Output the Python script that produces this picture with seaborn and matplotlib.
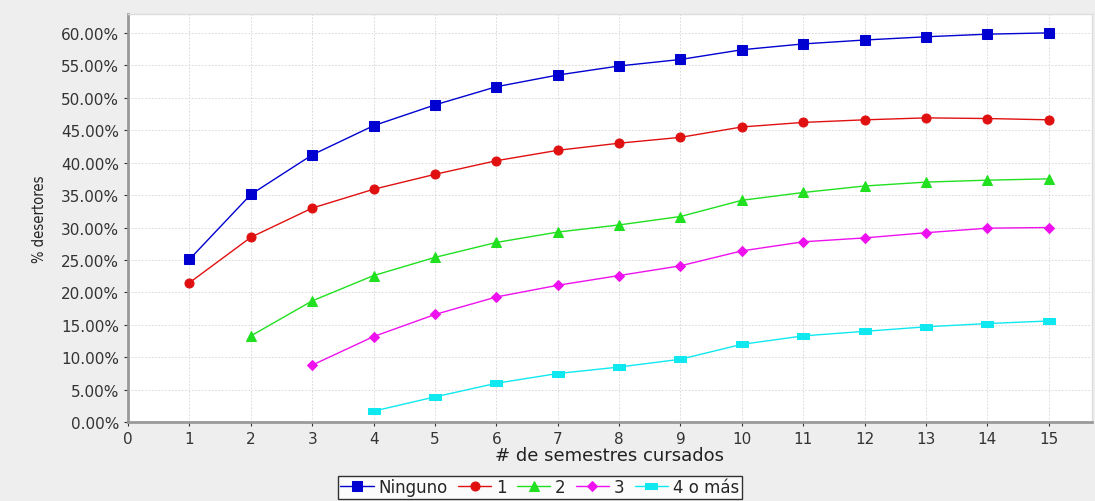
import numpy as np
import pandas as pd
import matplotlib
matplotlib.use('Agg')
import matplotlib.pyplot as plt
import seaborn as sns
from matplotlib.ticker import FuncFormatter, MultipleLocator

semestres = list(range(1, 16))
ninguno = [25.1, 35.1, 41.2, 45.7, 48.9, 51.7, 53.5, 54.9, 55.9, 57.4, 58.3, 58.9, 59.4, 59.8, 60.0]
uno = [21.5, 28.5, 33.0, 35.9, 38.2, 40.3, 41.9, 43.0, 43.9, 45.5, 46.2, 46.6, 46.9, 46.8, 46.6]
dos = [np.nan, 13.3, 18.7, 22.6, 25.4, 27.7, 29.3, 30.4, 31.7, 34.2, 35.4, 36.4, 37.0, 37.3, 37.5]
tres = [np.nan, np.nan, 8.8, 13.2, 16.6, 19.3, 21.1, 22.6, 24.1, 26.4, 27.8, 28.4, 29.2, 29.9, 30.0]
cuatro = [np.nan, np.nan, np.nan, 1.7, 3.9, 6.0, 7.5, 8.5, 9.7, 12.0, 13.3, 14.0, 14.7, 15.2, 15.6]

series = {'Ninguno': ninguno, '1': uno, '2': dos, '3': tres, '4 o más': cuatro}
colores = {'Ninguno': '#0000d0', '1': '#e01010', '2': '#20e020', '3': '#ee10ee', '4 o más': '#10e8f0'}
barra = [(-1, -0.5), (1, -0.5), (1, 0.5), (-1, 0.5), (-1, -0.5)]
marcadores = {'Ninguno': 's', '1': 'o', '2': '^', '3': 'D', '4 o más': barra}
tamanos = {'Ninguno': 6.5, '1': 6.5, '2': 6.5, '3': 5, '4 o más': 9}

df = pd.DataFrame(series, index=semestres)
df.index.name = 'semestre'
df = df.reset_index().melt(id_vars='semestre', var_name='grupo', value_name='pct').dropna()

sns.set_style('white')
plt.rcParams['font.family'] = ['DejaVu Sans']

fig = plt.figure(figsize=(10.95, 5.02), dpi=100, facecolor='#eeeeee')
ax = fig.add_axes([0.117, 0.157, 0.88, 0.813])
ax.set_facecolor('white')

for nombre in series:
    sub = df[df['grupo'] == nombre]
    sns.lineplot(data=sub, x='semestre', y='pct', ax=ax, color=colores[nombre],
                 marker=marcadores[nombre], markersize=tamanos[nombre],
                 markeredgecolor=colores[nombre], linewidth=1.0, label=nombre, zorder=3)

ax.set_xlim(0, 15.7)
ax.set_ylim(0, 62.9)
ax.xaxis.set_major_locator(MultipleLocator(1))
ax.yaxis.set_major_locator(MultipleLocator(5))
ax.yaxis.set_major_formatter(FuncFormatter(lambda v, p: f'{v:.2f}%'))
ax.grid(True, color='#d4d4d4', linestyle=(0, (2, 2)), linewidth=0.6)
ax.tick_params(axis='both', labelsize=11, colors='#333333', length=3, width=0.8,
               direction='out', left=True, bottom=True)
for lado in ['left', 'bottom']:
    ax.spines[lado].set_color('#999999')
    ax.spines[lado].set_linewidth(2)
for lado in ['top', 'right']:
    ax.spines[lado].set_color('#dddddd')
    ax.spines[lado].set_linewidth(1)
ax.set_xlabel('# de semestres cursados', fontsize=13, color='#222222', labelpad=0)
ax.set_ylabel('% desertores', fontsize=10.5, color='#222222', fontstretch='condensed', labelpad=10)

ax.legend_.remove()
handles, labels = ax.get_legend_handles_labels()
leg = fig.legend(handles, labels, loc='lower center', bbox_to_anchor=(0.493, 0.0), ncol=5,
                 frameon=True, fancybox=False, edgecolor='black', fontsize=12,
                 handlelength=2.0, handletextpad=0.3, columnspacing=0.6,
                 borderpad=0.15, borderaxespad=0.15)
leg.get_frame().set_linewidth(1.0)
leg.get_frame().set_facecolor('white')

fig.savefig('out.png', dpi=100, facecolor=fig.get_facecolor())
